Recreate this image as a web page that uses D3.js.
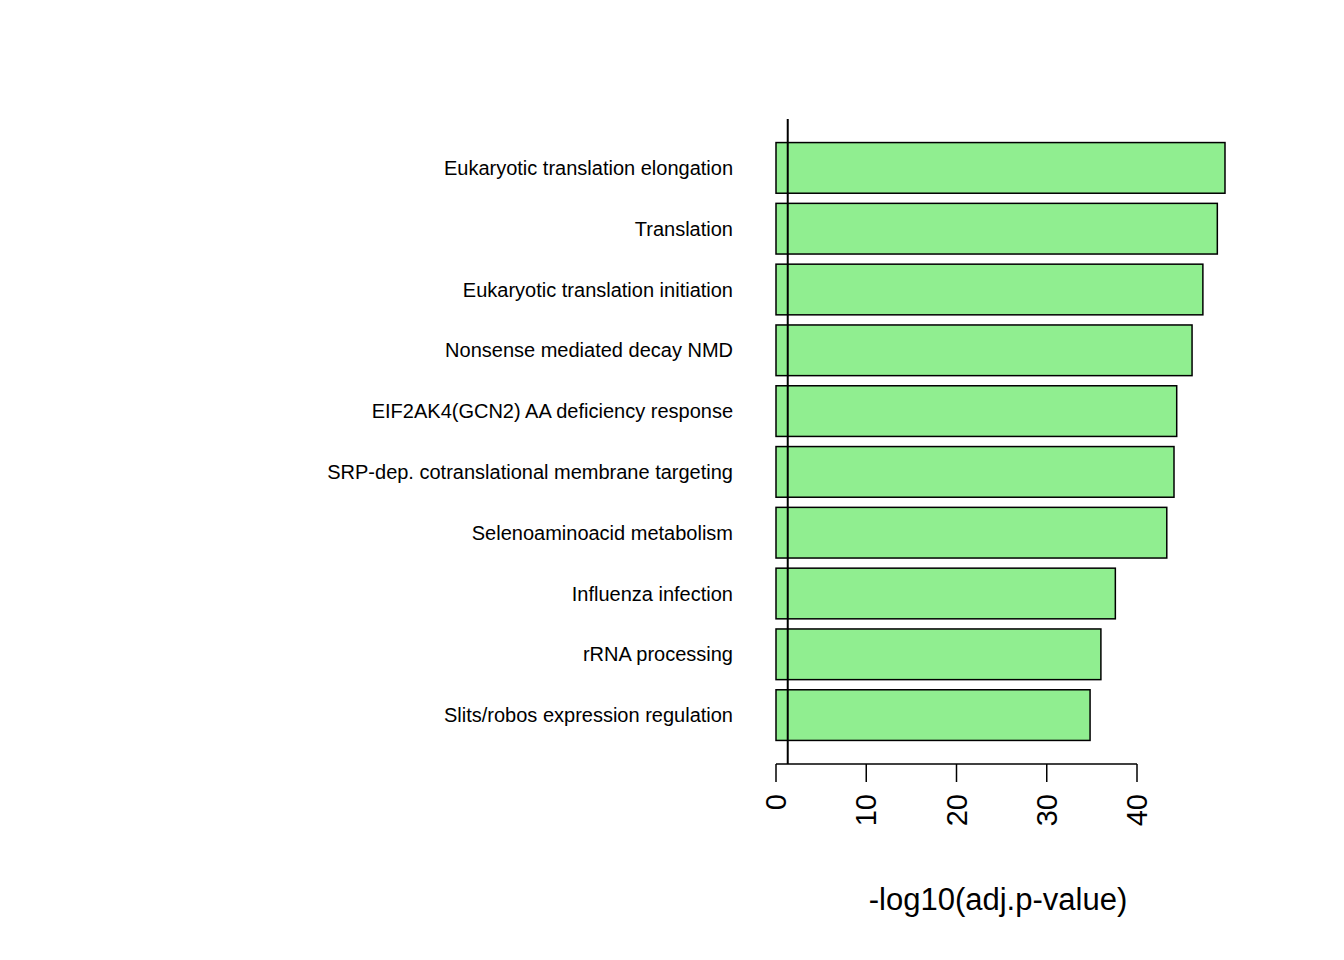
<!DOCTYPE html>
<html><head><meta charset="utf-8">
<script src="https://cdn.jsdelivr.net/npm/d3@7"></script>
<style>body{margin:0;background:#fff}text{font-family:"Liberation Sans",Arial,sans-serif}</style>
</head><body>
<svg id="c" width="1344" height="960"></svg>
<script>
var pathways = ["Eukaryotic translation elongation","Translation","Eukaryotic translation initiation",
  "Nonsense mediated decay NMD","EIF2AK4(GCN2) AA deficiency response","SRP-dep. cotranslational membrane targeting",
  "Selenoaminoacid metabolism","Influenza infection","rRNA processing","Slits/robos expression regulation"];
var scores = [49.75, 48.9, 47.3, 46.1, 44.4, 44.1, 43.3, 37.6, 36.0, 34.8];
var ticks = [0, 10, 20, 30, 40];
var cutoff = -Math.log10(0.05);

var svg = d3.select("#c");
var x = d3.scaleLinear().domain([0, 40]).range([776, 1137]);
var y = d3.scaleBand().domain(pathways).range([137.5, 745.5]).paddingInner(1/6).paddingOuter(1/12);

svg.selectAll("rect").data(pathways).enter().append("rect")
  .attr("x", x(0)).attr("y", function(d){ return y(d); })
  .attr("width", function(d, i){ return x(scores[i]) - x(0); })
  .attr("height", y.bandwidth())
  .attr("fill", "#90ee90").attr("stroke", "#000").attr("stroke-width", 1.5);

svg.selectAll("text.lab").data(pathways).enter().append("text")
  .attr("class", "lab").attr("x", 733).attr("y", function(d){ return y(d) + y.bandwidth()/2; })
  .attr("dy", "0.35em").attr("text-anchor", "end").attr("font-size", 20).text(function(d){ return d; });

svg.append("line").attr("x1", x(cutoff)).attr("x2", x(cutoff)).attr("y1", 119).attr("y2", 764)
  .attr("stroke", "#000").attr("stroke-width", 2);

var g = svg.append("g").attr("transform", "translate(0,764)");
g.append("line").attr("x1", x(0)).attr("x2", x(40)).attr("stroke", "#000").attr("stroke-width", 1.5);
ticks.forEach(function(t){
  g.append("line").attr("x1", x(t)).attr("x2", x(t)).attr("y2", 18).attr("stroke", "#000").attr("stroke-width", 1.5);
  g.append("text").attr("transform", "translate(" + (x(t) + 10) + ",30) rotate(-90)")
    .attr("text-anchor", "end").attr("font-size", 29).text(t);
});

svg.append("text").attr("x", 998).attr("y", 910).attr("text-anchor", "middle")
  .attr("font-size", 31).text("-log10(adj.p-value)");
</script>
</body></html>
